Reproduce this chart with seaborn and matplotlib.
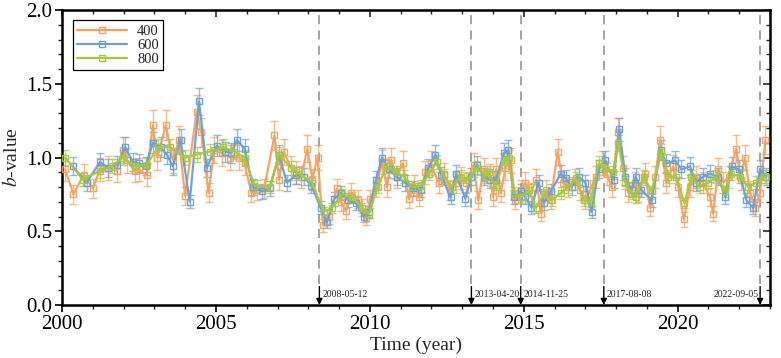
"""b-value time series for three sample window sizes, with marked events."""

import matplotlib

matplotlib.use("Agg")
import matplotlib.pyplot as plt
import numpy as np
import pandas as pd
import seaborn as sns
from matplotlib.lines import Line2D
from matplotlib.ticker import MultipleLocator, FormatStrFormatter


# window N = 400
YEAR_400 = [2000.10, 2000.37, 2000.70, 2001.00, 2001.23, 2001.50, 2001.77, 2001.98, 2002.10, 2002.36,
            2002.50, 2002.75, 2002.95, 2003.10, 2003.37, 2003.60, 2003.80, 2004.00, 2004.37, 2004.53,
            2004.76, 2004.95, 2005.20, 2005.45, 2005.76, 2005.93, 2006.15, 2006.35, 2006.57, 2006.90,
            2007.05, 2007.20, 2007.44, 2007.60, 2007.77, 2007.97, 2008.13, 2008.30, 2008.48, 2008.67,
            2008.93, 2009.05, 2009.22, 2009.40, 2009.60, 2009.75, 2009.87, 2010.00, 2010.20, 2010.40,
            2010.55, 2010.70, 2010.87, 2011.07, 2011.27, 2011.45, 2011.60, 2011.80, 2011.97, 2012.23,
            2012.40, 2012.60, 2012.80, 2012.95, 2013.12, 2013.37, 2013.52, 2013.70, 2013.90, 2014.00,
            2014.10, 2014.25, 2014.40, 2014.57, 2014.73, 2014.90, 2015.05, 2015.22, 2015.40, 2015.57,
            2015.72, 2015.88, 2016.10, 2016.27, 2016.44, 2016.66, 2016.83, 2017.00, 2017.16, 2017.33,
            2017.53, 2017.69, 2017.85, 2018.07, 2018.23, 2018.40, 2018.60, 2018.72, 2018.95, 2019.10,
            2019.27, 2019.43, 2019.63, 2019.85, 2020.02, 2020.20, 2020.40, 2020.60, 2020.82, 2021.05,
            2021.15, 2021.32, 2021.48, 2021.65, 2021.90, 2022.05, 2022.18, 2022.35, 2022.52, 2022.67,
            2022.85]
B_400 = [0.92, 0.75, 0.88, 0.79, 0.92, 0.93, 0.91, 1.05, 0.98, 0.91,
         0.92, 0.88, 1.22, 1.00, 1.22, 0.98, 1.12, 0.74, 1.31, 1.17,
         0.76, 1.05, 1.03, 1.00, 1.00, 0.96, 0.76, 0.78, 0.79, 1.15,
         0.85, 1.04, 0.93, 0.90, 0.87, 1.06, 0.85, 1.00, 0.54, 0.60,
         0.79, 0.70, 0.64, 0.76, 0.72, 0.66, 0.59, 0.72, 0.80, 0.97,
         0.80, 0.98, 0.87, 0.96, 0.72, 0.81, 0.73, 0.90, 0.96, 0.83,
         0.89, 0.78, 0.83, 0.86, 0.83, 0.95, 0.71, 0.92, 0.88, 0.73,
         0.92, 0.76, 0.93, 0.98, 0.71, 0.78, 0.83, 0.76, 0.85, 0.62,
         0.78, 0.71, 1.04, 0.83, 0.80, 0.85, 0.78, 0.71, 0.78, 0.87,
         0.96, 0.89, 0.80, 1.17, 0.93, 0.76, 0.83, 0.76, 0.89, 0.66,
         0.87, 1.12, 0.83, 0.94, 0.80, 0.58, 0.80, 0.87, 0.83, 0.73,
         0.62, 0.92, 0.83, 0.87, 1.06, 0.85, 1.00, 0.76, 0.66, 0.76,
         1.12]

# window N = 600
YEAR_600 = [2000.35, 2000.80, 2001.23, 2001.50, 2001.80, 2002.05, 2002.30, 2002.50, 2002.72, 2002.95,
            2003.20, 2003.40, 2003.60, 2003.85, 2004.15, 2004.45, 2004.70, 2005.03, 2005.30, 2005.50,
            2005.68, 2005.93, 2006.20, 2006.50, 2006.75, 2007.05, 2007.30, 2007.60, 2007.85, 2008.10,
            2008.40, 2008.60, 2008.85, 2009.05, 2009.30, 2009.55, 2009.80, 2009.97, 2010.20, 2010.40,
            2010.62, 2010.87, 2011.15, 2011.40, 2011.65, 2011.90, 2012.13, 2012.32, 2012.62, 2012.80,
            2013.10, 2013.30, 2013.47, 2013.70, 2013.90, 2014.10, 2014.35, 2014.50, 2014.67, 2014.90,
            2015.05, 2015.25, 2015.48, 2015.65, 2015.88, 2016.20, 2016.36, 2016.55, 2016.78, 2017.00,
            2017.20, 2017.43, 2017.65, 2017.92, 2018.10, 2018.30, 2018.50, 2018.63, 2018.82, 2019.15,
            2019.45, 2019.63, 2019.92, 2020.12, 2020.40, 2020.60, 2020.82, 2021.05, 2021.32, 2021.55,
            2021.75, 2021.98, 2022.23, 2022.45, 2022.68, 2022.88]
B_600 = [0.94, 0.83, 0.97, 0.93, 0.95, 1.07, 0.97, 0.96, 0.94, 1.10,
         1.07, 1.02, 0.94, 1.12, 0.70, 1.38, 0.93, 1.08, 1.04, 1.03,
         1.12, 1.06, 0.80, 0.77, 0.79, 1.02, 0.83, 0.88, 0.87, 0.81,
         0.66, 0.56, 0.72, 0.76, 0.71, 0.69, 0.60, 0.63, 0.85, 1.00,
         0.92, 0.87, 0.83, 0.79, 0.78, 0.93, 1.02, 0.88, 0.73, 0.89,
         0.72, 0.87, 0.95, 0.87, 0.85, 0.85, 1.03, 1.05, 0.73, 0.77,
         0.73, 0.66, 0.83, 0.69, 0.77, 0.89, 0.86, 0.80, 0.87, 0.83,
         0.63, 0.92, 0.98, 0.85, 1.19, 0.87, 0.78, 0.87, 0.78, 0.71,
         1.05, 0.96, 0.98, 0.92, 0.94, 0.83, 0.87, 0.89, 0.87, 0.73,
         0.94, 0.92, 0.71, 0.66, 0.92, 0.87]

# window N = 800
YEAR_800 = [2000.10, 2000.68, 2001.23, 2001.62, 2001.98, 2002.36, 2002.75, 2003.12, 2003.50, 2004.00,
            2004.37, 2004.80, 2005.23, 2005.60, 2005.93, 2006.25, 2006.75, 2007.05, 2007.44, 2007.70,
            2008.12, 2008.50, 2008.77, 2009.10, 2009.43, 2009.75, 2009.97, 2010.25, 2010.55, 2010.85,
            2011.10, 2011.37, 2011.66, 2011.92, 2012.18, 2012.40, 2012.66, 2012.95, 2013.20, 2013.48,
            2013.76, 2013.86, 2014.09, 2014.35, 2014.51, 2014.67, 2014.93, 2015.16, 2015.39, 2015.65,
            2015.91, 2016.20, 2016.45, 2016.71, 2016.94, 2017.17, 2017.43, 2017.65, 2017.91, 2018.07,
            2018.30, 2018.50, 2018.63, 2018.89, 2019.15, 2019.47, 2019.70, 2019.95, 2020.22, 2020.44,
            2020.73, 2020.99, 2021.25, 2021.54, 2021.74, 2022.03, 2022.29, 2022.55, 2022.84]
B_800 = [1.00, 0.85, 0.91, 0.94, 1.00, 0.94, 0.95, 1.07, 1.07, 1.00,
         1.02, 1.04, 1.07, 1.04, 1.00, 0.81, 0.80, 1.02, 0.93, 0.89,
         0.83, 0.63, 0.66, 0.75, 0.73, 0.66, 0.62, 0.80, 0.94, 0.90,
         0.87, 0.80, 0.81, 0.89, 0.97, 0.88, 0.80, 0.87, 0.85, 0.93,
         0.87, 0.90, 0.80, 0.98, 1.00, 0.76, 0.73, 0.78, 0.66, 0.75,
         0.71, 0.76, 0.80, 0.86, 0.71, 0.70, 0.96, 0.93, 0.90, 1.10,
         0.83, 0.76, 0.73, 0.87, 0.77, 1.04, 0.87, 0.87, 0.69, 0.87,
         0.80, 0.83, 0.87, 0.77, 0.89, 0.87, 0.80, 0.83, 0.87]

# relative uncertainty of b for each window size (half error bar / b)
REL_ERR = {"400": 0.085, "600": 0.065, "800": 0.05}

EVENT_DATES = ["2008-05-12", "2013-04-20", "2014-11-25", "2017-08-08", "2022-09-05"]

COLORS = {"400": "#F4A261", "600": "#6C9FD3", "800": "#A6C93C"}


def decimal_year(date_text: str) -> float:
    ts = pd.Timestamp(date_text)
    start = pd.Timestamp(year=ts.year, month=1, day=1)
    days = 366 if ts.is_leap_year else 365
    return ts.year + (ts - start).days / days


def main() -> None:
    sns.set_theme(style="ticks")
    plt.rcParams["font.family"] = ["Liberation Serif", "DejaVu Serif"]
    plt.rcParams["mathtext.fontset"] = "stix"

    series = {
        "400": (YEAR_400, B_400),
        "600": (YEAR_600, B_600),
        "800": (YEAR_800, B_800),
    }

    fig = plt.figure(figsize=(7.81, 3.58), dpi=100)
    ax = fig.add_axes([0.0794, 0.148, 0.9066, 0.824])

    for name, (years, vals) in series.items():
        color = COLORS[name]
        vals = np.asarray(vals)
        ax.errorbar(years, vals, yerr=vals * REL_ERR[name], fmt="none", ecolor=color,
                    elinewidth=1.0, capsize=3, capthick=1.0, alpha=0.7, zorder=2)
        df = pd.DataFrame({"year": years, "b": vals})
        sns.lineplot(data=df, x="year", y="b", ax=ax, color=color, linewidth=1.6,
                     marker="s", markersize=5, markerfacecolor="none", alpha=0.95,
                     markeredgecolor=color, markeredgewidth=1.0, zorder=3)

    # event markers
    for date in EVENT_DATES:
        x = decimal_year(date)
        ax.plot([x, x], [0.14, 2.0], color="#8c8c8c", linestyle=(0, (6, 4)),
                linewidth=1.1, zorder=1)
        ax.annotate("", xy=(x, 0.0), xytext=(x, 0.125),
                    arrowprops=dict(arrowstyle="-|>", color="black", lw=1.0,
                                    mutation_scale=9, shrinkA=0, shrinkB=0))
        if date == EVENT_DATES[-1]:
            ax.text(x - 0.05, 0.07, date, fontsize=7, ha="right", va="center")
        else:
            ax.text(x + 0.1, 0.07, date, fontsize=7, ha="left", va="center")

    ax.set_xlim(2000, 2023)
    ax.set_ylim(0, 2.0)
    ax.xaxis.set_major_locator(MultipleLocator(5))
    ax.xaxis.set_minor_locator(MultipleLocator(1))
    ax.yaxis.set_major_locator(MultipleLocator(0.5))
    ax.yaxis.set_minor_locator(MultipleLocator(0.1))
    ax.yaxis.set_major_formatter(FormatStrFormatter("%.1f"))
    ax.tick_params(which="major", direction="out", length=5, width=1.2, labelsize=15,
                   colors="black", pad=2)
    ax.tick_params(which="minor", direction="out", length=3, width=1.0)

    top = ax.secondary_xaxis("top")
    top.xaxis.set_major_locator(MultipleLocator(5))
    top.xaxis.set_minor_locator(MultipleLocator(1))
    top.tick_params(which="major", direction="in", length=5, width=1.2, labeltop=False)
    top.tick_params(which="minor", direction="in", length=3, width=1.0)
    right = ax.secondary_yaxis("right")
    right.yaxis.set_major_locator(MultipleLocator(0.5))
    right.yaxis.set_minor_locator(MultipleLocator(0.1))
    right.tick_params(which="major", direction="in", length=5, width=1.2, labelright=False)
    right.tick_params(which="minor", direction="in", length=3, width=1.0)
    for sp in list(top.spines.values()) + list(right.spines.values()):
        sp.set_visible(False)

    for sp in ax.spines.values():
        sp.set_visible(True)
        sp.set_linewidth(1.8)
        sp.set_color("black")

    ax.set_xlabel("Time (year)", fontsize=14, labelpad=2)
    ax.set_ylabel("$b$-value", fontsize=14, labelpad=4)

    handles = [
        Line2D([0], [0], color=COLORS[n], linewidth=1.6, marker="s", markersize=5,
               markerfacecolor="none", markeredgecolor=COLORS[n])
        for n in series
    ]
    leg = ax.legend(handles, list(series), loc="upper left", fontsize=10.5, frameon=True,
                    fancybox=False, edgecolor="black", framealpha=1.0, borderpad=0.3,
                    labelspacing=0.05, handlelength=3.4, handletextpad=0.7,
                    bbox_to_anchor=(0.005, 0.99))
    leg.get_frame().set_linewidth(0.9)

    fig.savefig("out.png", dpi=100)
    plt.close(fig)


if __name__ == "__main__":
    main()
